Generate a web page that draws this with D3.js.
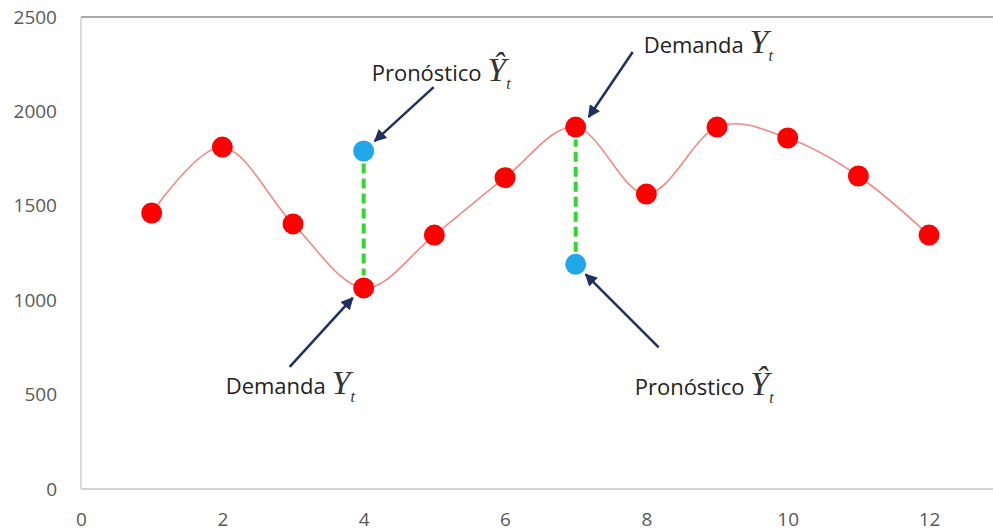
<!DOCTYPE html>
<html>
<head>
<meta charset="utf-8">
<script src="https://cdn.jsdelivr.net/npm/d3@7"></script>
<style>
  html, body { margin: 0; padding: 0; background: #fff; overflow: hidden; }
  svg { display: block; }
</style>
</head>
<body>
<svg id="chart" width="993" height="531"></svg>
<script>
// ---- data ----
const periods = [1, 2, 3, 4, 5, 6, 7, 8, 9, 10, 11, 12];
const demand = [1462, 1811, 1404, 1065, 1345, 1649, 1917, 1562, 1917, 1859, 1658, 1345];
const forecastPeriods = [4, 7];
const forecastValues = [1790, 1190];
const xTicks = [0, 2, 4, 6, 8, 10, 12];
const yTicks = [0, 500, 1000, 1500, 2000, 2500];
const labelDemand = "Demanda";
const labelForecast = "Pronóstico";

// ---- layout ----
const W = 993, H = 531;
const mLeft = 81, mTop = 17, mBottom = 489;
const unit = 70.67;
const svg = d3.select("#chart");

const x = d3.scaleLinear().domain([0, 14]).range([mLeft, mLeft + 14 * unit]);
const y = d3.scaleLinear().domain([0, 2500]).range([mBottom, mTop]);

// frame
svg.append("line").attr("x1", mLeft).attr("x2", W).attr("y1", mTop).attr("y2", mTop)
  .attr("stroke", "#a8a8a8").attr("stroke-width", 2);
svg.append("line").attr("x1", mLeft).attr("x2", mLeft).attr("y1", mTop).attr("y2", mBottom)
  .attr("stroke", "#cfcfcf").attr("stroke-width", 1.5);
svg.append("line").attr("x1", mLeft).attr("x2", W).attr("y1", mBottom).attr("y2", mBottom)
  .attr("stroke", "#c4c4c4").attr("stroke-width", 1.5);

// axes
const yAxis = d3.axisLeft(y).tickValues(yTicks).tickSize(0).tickPadding(24).tickFormat(d3.format("d"));
const gy = svg.append("g").attr("transform", `translate(${mLeft},0)`).call(yAxis);
gy.select(".domain").remove();
gy.selectAll("text").attr("fill", "#595959").attr("font-family", "Open Sans, sans-serif").attr("font-size", 19);

const xAxis = d3.axisBottom(x).tickValues(xTicks).tickSize(0).tickPadding(24).tickFormat(d3.format("d"));
const gx = svg.append("g").attr("transform", `translate(0,${mBottom})`).call(xAxis);
gx.select(".domain").remove();
gx.selectAll("text").attr("fill", "#595959").attr("font-family", "Open Sans, sans-serif").attr("font-size", 19);

// smooth demand line
const pts = periods.map((p, i) => [p, demand[i]]);
const line = d3.line().x(d => x(d[0])).y(d => y(d[1])).curve(d3.curveCatmullRom.alpha(0));
svg.append("path").attr("d", line(pts)).attr("fill", "none")
  .attr("stroke", "#f08a8a").attr("stroke-width", 1.6);

// green dashed gaps between forecast and demand
const r = 10.5;
forecastPeriods.forEach((p, i) => {
  const dv = demand[periods.indexOf(p)];
  const fv = forecastValues[i];
  const y1 = y(fv), y2 = y(dv);
  const dir = y2 > y1 ? 1 : -1;
  svg.append("line")
    .attr("x1", x(p)).attr("x2", x(p))
    .attr("y1", y1 + dir * (r + 2)).attr("y2", y2 - dir * (r + 2))
    .attr("stroke", "#33d633").attr("stroke-width", 4).attr("stroke-dasharray", "10,5");
});

// demand dots
svg.selectAll("circle.dem").data(pts).enter().append("circle").attr("class", "dem")
  .attr("cx", d => x(d[0])).attr("cy", d => y(d[1])).attr("r", r).attr("fill", "#ff0000");

// forecast dots
svg.selectAll("circle.fc").data(forecastPeriods.map((p, i) => [p, forecastValues[i]])).enter()
  .append("circle").attr("class", "fc")
  .attr("cx", d => x(d[0])).attr("cy", d => y(d[1])).attr("r", r).attr("fill", "#21a7e8");

// arrow marker
svg.append("defs").append("marker").attr("id", "ah")
  .attr("viewBox", "0 0 10 10").attr("refX", 9).attr("refY", 5)
  .attr("markerWidth", 5).attr("markerHeight", 5).attr("orient", "auto")
  .append("path").attr("d", "M0,0 L10,5 L0,10 z").attr("fill", "#1f3060");

// annotations: anchored to data points with pixel offsets
const ann = [
  { p: 4, v: forecastValues[0], label: labelForecast, hat: true, tip: [11, -10], tail: [70, -64], tx: [8, -70] },
  { p: 7, v: demand[6], label: labelDemand, hat: false, tip: [13, -10], tail: [57, -75], tx: [68, -74] },
  { p: 4, v: demand[3], label: labelDemand, hat: false, tip: [-11, 10], tail: [-74, 79], tx: [-138, 106] },
  { p: 7, v: forecastValues[1], label: labelForecast, hat: true, tip: [10, 10], tail: [83, 83], tx: [59, 131] }
];

ann.forEach(a => {
  const cx = x(a.p), cy = y(a.v);
  svg.append("line")
    .attr("x1", cx + a.tail[0]).attr("y1", cy + a.tail[1])
    .attr("x2", cx + a.tip[0]).attr("y2", cy + a.tip[1])
    .attr("stroke", "#1f3060").attr("stroke-width", 2.5).attr("marker-end", "url(#ah)");
  const t = svg.append("text")
    .attr("x", cx + a.tx[0]).attr("y", cy + a.tx[1])
    .attr("font-family", "Open Sans, sans-serif").attr("font-size", 22).attr("fill", "#222");
  t.append("tspan").text(a.label + " ");
  t.append("tspan").text(a.hat ? "\u0176" : "Y")
    .attr("font-family", "Liberation Serif, serif").attr("font-style", "italic").attr("font-size", 34)
    .attr("fill", "#333");
  t.append("tspan").text("t").attr("dy", 8)
    .attr("font-family", "Liberation Serif, serif").attr("font-style", "italic").attr("font-size", 16)
    .attr("fill", "#333");
});
</script>
</body>
</html>
